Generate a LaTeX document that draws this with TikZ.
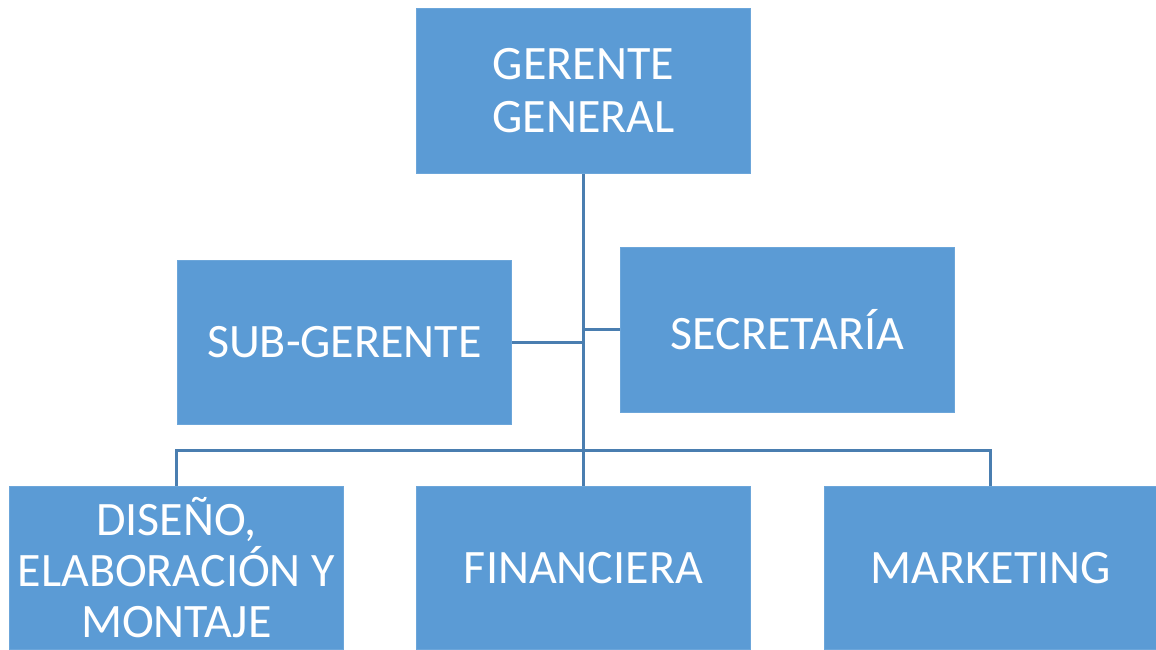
\documentclass[tikz,border=0pt]{standalone}
\usepackage{fontspec}
\setmainfont{Carlito}
\definecolor{boxfill}{HTML}{5B9BD5}
\definecolor{boxedge}{HTML}{6CA6DA}
\definecolor{conn}{HTML}{4A7EB0}
\begin{document}
\begin{tikzpicture}[x=1pt,y=-1pt,
  orgbox/.style={draw=boxedge,line width=0.8pt,fill=boxfill,minimum width=334pt,minimum height=165pt,
    text=white,align=center,font=\fontsize{48}{53}\selectfont,inner sep=0pt,anchor=north west},
  link/.style={draw=conn,line width=3pt}]
\useasboundingbox (0,0) rectangle (1156,649);
\node[orgbox] (gg) at (416,8) {GERENTE\\GENERAL};
\node[orgbox,minimum height=164pt] (sg) at (177,260) {SUB-GERENTE};
\node[orgbox] (sec) at (620,247) {SECRETARÍA};
\node[orgbox,minimum height=163pt,font=\fontsize{48}{51}\selectfont] (dis) at (9,486) {DISEÑO,\\ELABORACIÓN Y\\MONTAJE};
\node[orgbox,minimum height=163pt] (fin) at (416,486) {FINANCIERA};
\node[orgbox,minimum width=333pt,minimum height=163pt] (mkt) at (824,486) {MARKETING};
\coordinate (hub) at (583,450);
\draw[link] (gg.south) -- (fin.north);
\draw[link] (sg.east) -- (sg.east -| hub);
\draw[link] (sec.west) -- (sec.west -| hub);
\draw[link] (dis.north -| 176,0) -- (176,450) -- (990,450) -- (mkt.north -| 990,0);
\end{tikzpicture}
\end{document}
